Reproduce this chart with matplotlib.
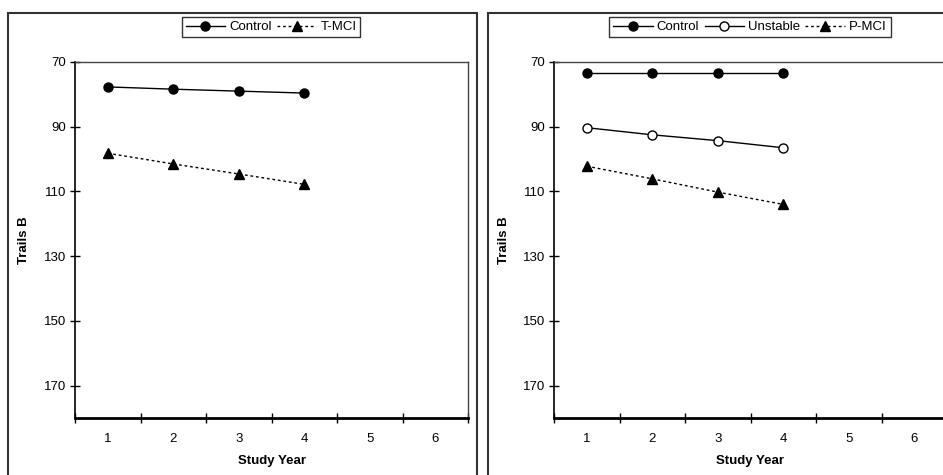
import matplotlib.pyplot as plt
from matplotlib.patches import Rectangle

plt.rcParams['font.family'] = ['Liberation Sans', 'DejaVu Sans']

years = [1, 2, 3, 4]
year_labels = ['1', '2', '3', '4', '5', '6']

# left panel
control_a = [77.7, 78.4, 79.0, 79.6]
tmci = [98.2, 101.5, 104.6, 107.8]

# right panel
control_b = [73.5, 73.5, 73.5, 73.5]
unstable = [90.3, 92.5, 94.3, 96.5]
pmci = [102.2, 106.1, 110.2, 114.0]

yticks = [70, 90, 110, 130, 150, 170]

W, H = 943, 475
FS = 9.5
fig = plt.figure(figsize=(W / 100, H / 100), dpi=100)


def px_axes(x0, y0, x1, y1):
    return fig.add_axes([x0 / W, 1 - y1 / H, (x1 - x0) / W, (y1 - y0) / H])


def style_axes(ax, label_x):
    ax.set_xlim(0.5, 6.5)
    ax.set_ylim(180, 70)
    ax.set_yticks(yticks)
    ax.set_xticks([0.5 + i for i in range(7)])
    ax.set_xticklabels([])
    ax.set_xticks(range(1, 7), minor=True)
    ax.set_xticklabels(year_labels, minor=True)
    ax.tick_params(axis='x', which='minor', length=0, pad=11, labelsize=FS)
    ax.tick_params(axis='x', which='major', direction='inout', length=7, width=1)
    ax.tick_params(axis='y', direction='inout', length=7, width=1, labelsize=FS, pad=3)
    ax.spines['bottom'].set_linewidth(2)
    ax.spines['left'].set_linewidth(1.2)
    for s in ['top', 'right']:
        ax.spines[s].set_linewidth(1)
        ax.spines[s].set_color('#444444')
    ax.set_xlabel('Study Year', fontweight='bold', fontsize=FS, labelpad=7)
    ax.set_ylabel('Trails B', fontweight='bold', fontsize=FS)
    ax.yaxis.set_label_coords(label_x, 0.5)


# outer frames
for x0, x1 in [(8, 477), (488, 960)]:
    fig.patches.append(Rectangle((x0 / W, -0.05), (x1 - x0) / W, 1 - 13 / H + 0.05,
                                 transform=fig.transFigure, fill=False,
                                 edgecolor='#333333', linewidth=1.5))

legend_kw = dict(loc='center', bbox_transform=fig.transFigure, frameon=True,
                 fancybox=False, edgecolor='black', fontsize=FS, handlelength=3.0,
                 handletextpad=0.3, columnspacing=0.4, borderpad=0.3, borderaxespad=0)

ax1 = px_axes(75, 62, 468, 418)
ax1.plot(years, control_a, color='black', lw=1, marker='o', ms=6.5, label='Control')
ax1.plot(years, tmci, color='black', lw=1, ls=(0, (2, 2)), marker='^', ms=6.5, label='T-MCI')
style_axes(ax1, -0.115)
ax1.legend(bbox_to_anchor=(271 / W, 1 - 27 / H), ncol=2, **legend_kw)

ax2 = px_axes(554, 62, 947, 418)
ax2.plot(years, control_b, color='black', lw=1, marker='o', ms=6.5, label='Control')
ax2.plot(years, unstable, color='black', lw=1, marker='o', ms=6.5, mfc='white', label='Unstable')
ax2.plot(years, pmci, color='black', lw=1, ls=(0, (2, 2)), marker='^', ms=6.5, label='P-MCI')
style_axes(ax2, -0.112)
ax2.legend(bbox_to_anchor=(750 / W, 1 - 27 / H), ncol=3, **legend_kw)

fig.savefig('out.png', dpi=100)
